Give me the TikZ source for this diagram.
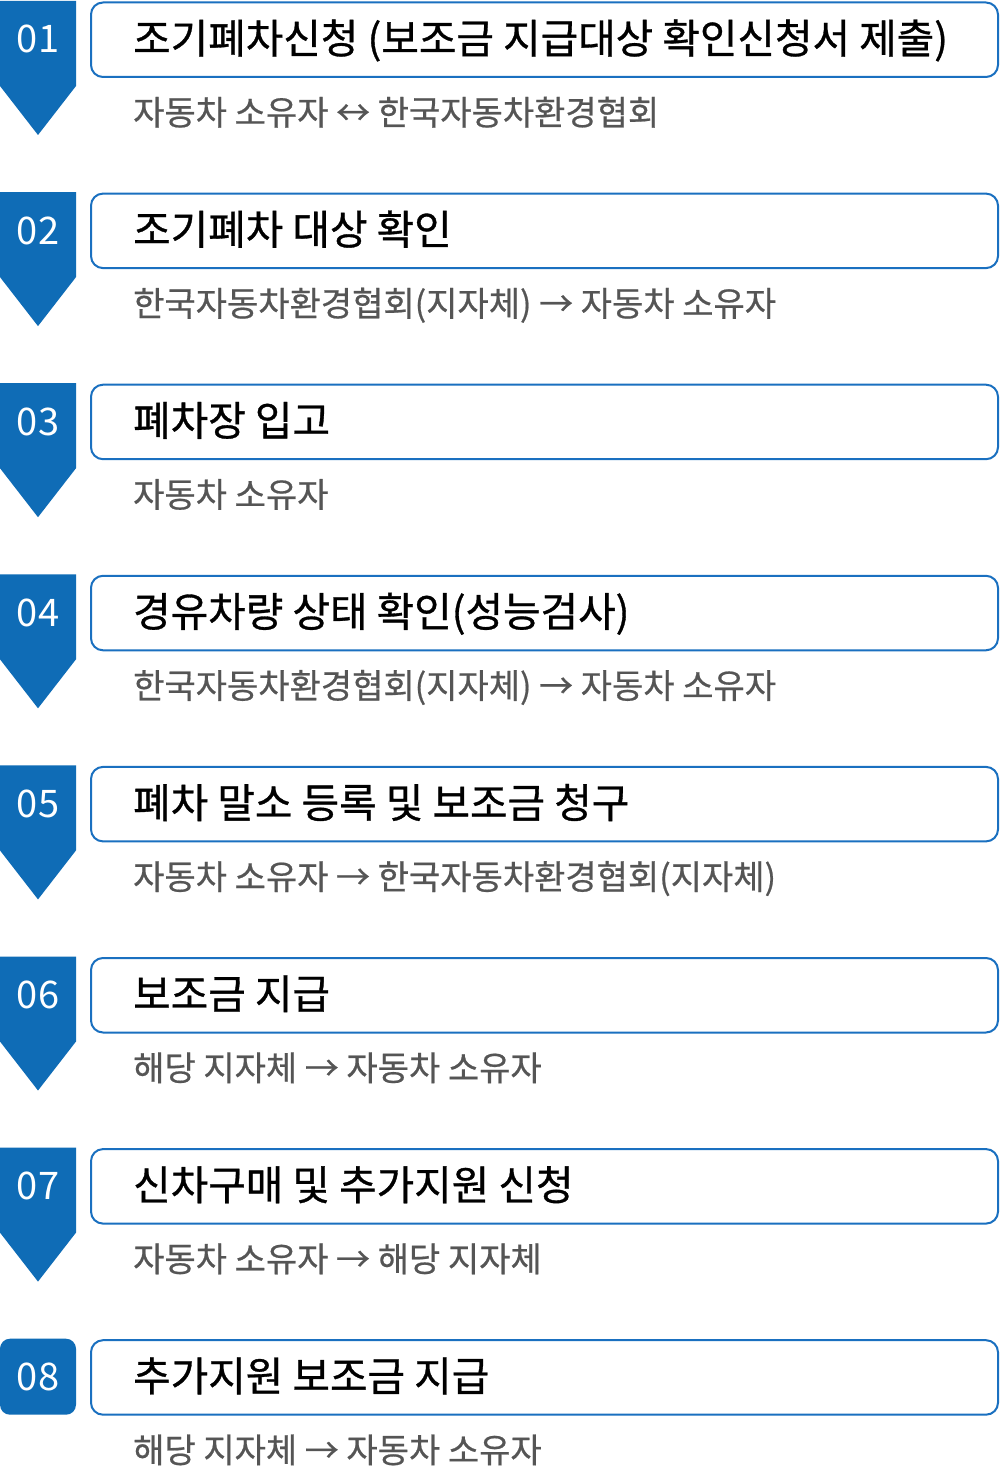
\documentclass[tikz,border=0pt]{standalone}
\usepackage{fontspec}
\setmainfont{Noto Sans CJK KR}
\definecolor{badgeblue}{HTML}{0F6CB6}
\definecolor{boxblue}{HTML}{1A70C0}
\definecolor{subgrey}{HTML}{555555}
\tikzset{
  badge/.style={fill=badgeblue, draw=none},
  stepframe/.style={draw=boxblue, line width=2pt, rounded corners=12pt, fill=white},
  numtxt/.style={anchor=base, text=white, font=\fontsize{38}{40}\selectfont, inner sep=0pt},
  titletxt/.style={anchor=base west, text=black, font=\fontsize{40.8}{44}\selectfont\addfontfeature{FakeBold=0.8}, inner sep=0pt},
  subtxt/.style={anchor=base west, text=subgrey, font=\fontsize{34}{37}\selectfont\addfontfeature{FakeBold=0.6}, inner sep=0pt}
}
\begin{document}
\begin{tikzpicture}[x=1pt,y=-1pt]
\useasboundingbox[fill=white] (0,0) rectangle (1001,1469);
\foreach \i/\ttl/\sub in {
  1/조기폐차신청 (보조금 지급대상 확인신청서 제출)/자동차 소유자 ↔ 한국자동차환경협회,
  2/조기폐차 대상 확인/한국자동차환경협회(지자체) → 자동차 소유자,
  3/폐차장 입고/자동차 소유자,
  4/경유차량 상태 확인(성능검사)/한국자동차환경협회(지자체) → 자동차 소유자,
  5/폐차 말소 등록 및 보조금 청구/자동차 소유자 → 한국자동차환경협회(지자체),
  6/보조금 지급/해당 지자체 → 자동차 소유자,
  7/신차구매 및 추가지원 신청/자동차 소유자 → 해당 지자체,
  8/추가지원 보조금 지급/해당 지자체 → 자동차 소유자}
{
  \pgfmathsetmacro{\T}{1+191.1*(\i-1)}
  \ifnum\i<8
    \fill[badge] (0,\T) -- (76,\T) -- (76,\T+85) -- (38,\T+134) -- (0,\T+85) -- cycle;
  \else
    \fill[badge, rounded corners=10pt] (0,\T) rectangle (76,\T+76);
  \fi
  \draw[stepframe] (91,\T+1.5) rectangle (998,\T+76);
  \node[numtxt] (num\i) at (38,\T+52) {0\i};
  \node[titletxt] (title\i) at (133,\T+52.5) {\ttl};
  \node[subtxt] (sub\i) at (133,\T+124) {\sub};
}
\end{tikzpicture}
\end{document}
